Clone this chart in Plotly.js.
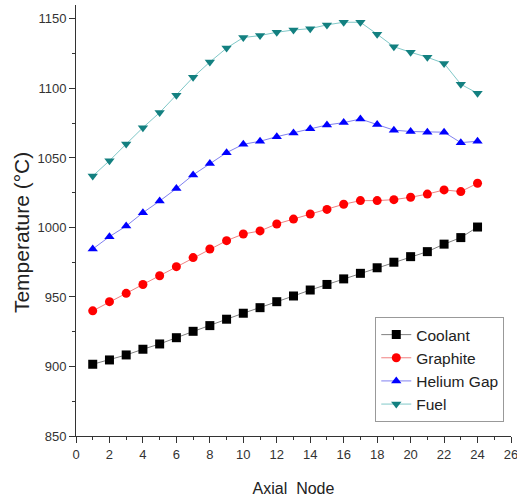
<!DOCTYPE html>
<html>
<head>
<meta charset="utf-8">
<script src="https://cdn.plot.ly/plotly-3.0.1.min.js"></script>
<style>html,body{margin:0;padding:0;background:#fff}#chart{width:517px;height:499px}</style>
</head>
<body>
<div id="chart"></div>
<script>
var nodes = [1,2,3,4,5,6,7,8,9,10,11,12,13,14,15,16,17,18,19,20,21,22,23,24];
var coolant = [901.6,904.7,908.3,912.4,916.2,920.7,925.3,929.4,934,938.3,942.3,946.6,950.7,955,959,963,967,971,975,979,982.6,988,992.7,1000.3];
var graphite = [940,946.6,952.6,959,965.3,971.8,978.3,984.5,990.5,995.3,997.5,1002.5,1006,1009.7,1013,1016.7,1019.3,1019.3,1020,1021.7,1024,1027,1025.8,1031.8];
var heliumGap = [984.5,993.4,1001,1010.6,1019,1028,1037.8,1046,1053.8,1059.8,1062,1065.3,1068,1071,1073.7,1075.4,1078,1074,1070,1069,1068.5,1068.5,1061,1062];
var fuel = [1037,1048,1060,1071.8,1082.6,1095,1108,1119,1129,1136.6,1138,1140.4,1142,1143,1145.7,1147.6,1147.6,1139,1130,1126,1122.4,1118,1103,1096.5];
var seriesNames = ['Coolant','Graphite','Helium Gap','Fuel'];
var xTitle = 'Axial\u00a0 Node';
var yTitle = 'Temperature (°C)';

function tr(y, name, sym, mcol, lcol) {
  return {x: nodes, y: y, name: name, type: 'scatter', mode: 'lines+markers',
    line: {color: lcol, width: 1},
    marker: {symbol: sym, color: mcol, size: 9}};
}
var data = [
  tr(coolant, seriesNames[0], 'square', '#000000', '#808080'),
  tr(graphite, seriesNames[1], 'circle', '#ff0000', '#f08080'),
  tr(heliumGap, seriesNames[2], 'triangle-up', '#0000ff', '#8080f0'),
  tr(fuel, seriesNames[3], 'triangle-down', '#138080', '#80c8c8')
];
var fam = 'Liberation Sans, Arial, sans-serif';
var axisFont = {family: fam, size: 13, color: '#333'};
var layout = {
  width: 517, height: 499,
  margin: {l: 76, r: 6, t: 5, b: 63},
  paper_bgcolor: '#fff', plot_bgcolor: '#fff',
  showlegend: true,
  legend: {x: 0.688, y: 0.276, xanchor: 'left', yanchor: 'top',
    bordercolor: '#999', borderwidth: 1, bgcolor: '#fff',
    font: {family: fam, size: 15.5, color: '#222'}},
  xaxis: {range: [0, 26], dtick: 2, tick0: 0, showgrid: false, zeroline: false,
    showline: true, linecolor: '#333', linewidth: 1, ticks: 'outside', ticklen: 6,
    tickcolor: '#333', tickfont: axisFont, ticklabeloverflow: 'allow',
    minor: {dtick: 1, ticks: 'outside', ticklen: 3, tickcolor: '#333'},
    title: {text: xTitle, font: {family: fam, size: 16, color: '#222'}, standoff: 22},
    automargin: false},
  yaxis: {range: [850, 1160], dtick: 50, tick0: 850, showgrid: false, zeroline: false,
    showline: true, linecolor: '#333', linewidth: 1, ticks: 'outside', ticklen: 6,
    tickcolor: '#333', tickfont: axisFont, ticklabeloverflow: 'allow',
    minor: {dtick: 25, ticks: 'outside', ticklen: 3, tickcolor: '#333'},
    automargin: false},
  annotations: [{text: yTitle, xref: 'paper', yref: 'paper', x: -0.124, y: 0.471,
    xanchor: 'center', yanchor: 'middle', textangle: -90, showarrow: false,
    font: {family: fam, size: 21, color: '#222'}}]
};
Plotly.newPlot('chart', data, layout, {displayModeBar: false, staticPlot: true});
</script>
</body>
</html>
